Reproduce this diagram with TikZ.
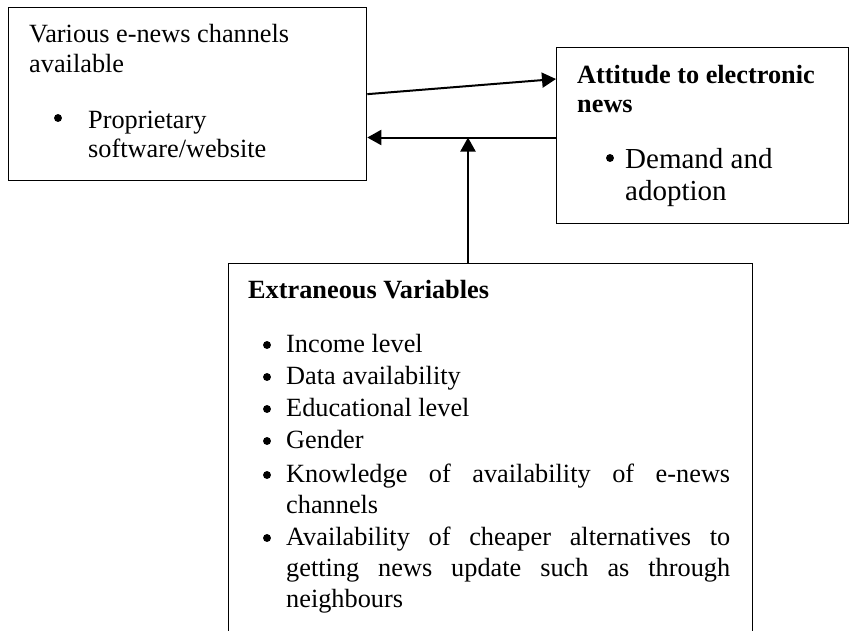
\documentclass[tikz,border=0pt]{standalone}
\usepackage{fontspec}
\setmainfont{Liberation Serif}
\usetikzlibrary{arrows.meta}
\usetikzlibrary{calc}

\tikzset{
  box/.style={draw, line width=1.3pt, inner sep=0pt, anchor=north west},
  txt/.style={anchor=base west, inner sep=0pt, font=\fontsize{26.3}{31.6}\selectfont},
  boldtxt/.style={txt, font=\fontsize{26.3}{31.6}\selectfont\bfseries},
  bigtxt/.style={txt, font=\fontsize{29}{34}\selectfont},
  dot/.style={circle, draw, fill, line width=0.8pt, inner sep=0pt, minimum size=7pt},
  arr/.style={-{Triangle[length=14pt,width=15pt]}, line width=2pt}
}

\begin{document}
\begin{tikzpicture}[x=1pt,y=-1pt]
      \useasboundingbox (0,0) rectangle (849,630);
      \clip (0,0) rectangle (849,630);
      % the three boxes
      \node[box, minimum width=358pt, minimum height=173pt] (chan) at (8,7) {};
      \node[box, minimum width=292pt, minimum height=176pt] (att) at (556,47) {};
      \node[box, minimum width=524pt, minimum height=420pt] (extr) at (228,263) {};
      % channels
      \node[txt] (chan1) at (29,42) {Various e-news channels};
      \node[txt] (chan2) at (29,72) {available};
      \node[dot] (chanb) at (58,118) {};
      \node[txt] (chan3) at (88,128) {Proprietary};
      \node[txt] (chan4) at (88,157) {software/website};
      % attitude
      \node[boldtxt] (att1) at (577,83) {Attitude to electronic};
      \node[boldtxt] (att2) at (577,112) {news};
      \node[dot] (attb) at (610,158) {};
      \node[bigtxt] (att3) at (625,168) {Demand and};
      \node[bigtxt] (att4) at (625,200) {adoption};
      % extraneous variables
      \node[boldtxt] (ext0) at (248,298) {Extraneous Variables};
      \foreach \y/\t [count=\i] in {352/Income level, 384/Data availability,
          416/Educational level, 448/Gender,
          482/\makebox[444pt][s]{Knowledge of availability of e-news},
          545/\makebox[444pt][s]{Availability of cheaper alternatives to}} {
        \node[dot] (extb\i) at (267,\y-7) {};
        \node[txt] (ext\i) at (286,\y) {\t};
      }
      \node[txt] (ext7) at (286,513) {channels};
      \node[txt] (ext8) at (286,576) {\makebox[444pt][s]{getting news update such as through}};
      \node[txt] (ext9) at (286,607) {neighbours};
      % arrows
      \coordinate (meet) at (468,137.5);
      \draw[arr] (chan.east) -- ($(att.north west)+(0,32)$);
      \draw[arr] (att.west |- meet) -- (chan.east |- meet);
      \draw[arr] (extr.north -| meet) -- (meet);
\end{tikzpicture}
\end{document}
